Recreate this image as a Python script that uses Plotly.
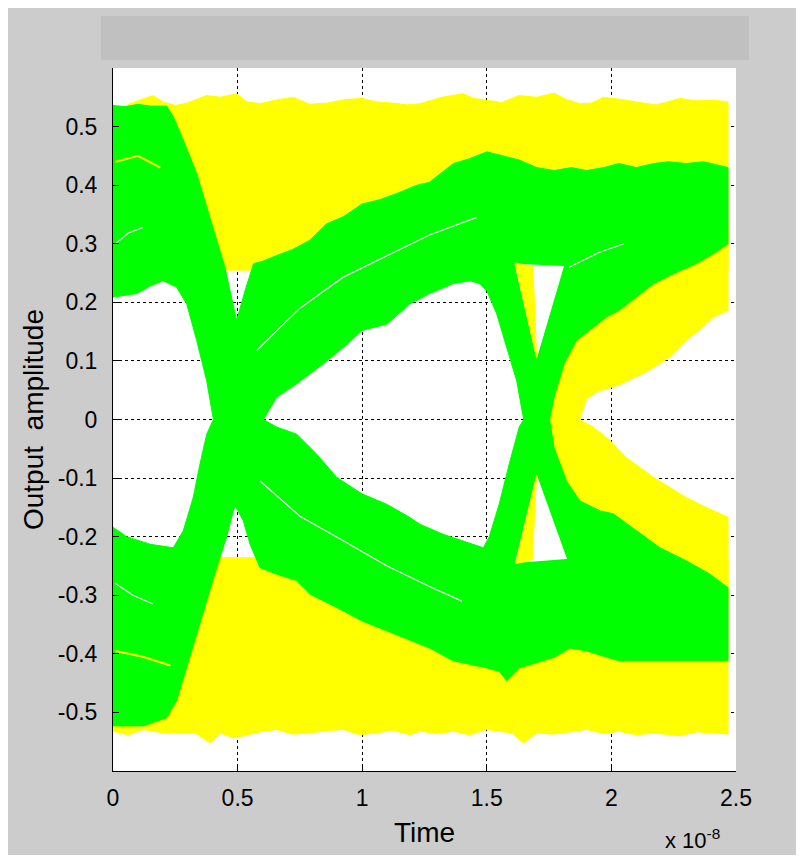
import plotly.graph_objects as go

# ---------------- data ----------------
# time axis in units of 1e-8 s, amplitude in volts
x_ticks = [0, 0.5, 1, 1.5, 2, 2.5]
x_tick_labels = ["0", "0.5", "1", "1.5", "2", "2.5"]
y_ticks = [-0.5, -0.4, -0.3, -0.2, -0.1, 0, 0.1, 0.2, 0.3, 0.4, 0.5]
y_tick_labels = ["-0.5", "-0.4", "-0.3", "-0.2", "-0.1", "0", "0.1", "0.2", "0.3", "0.4", "0.5"]

# yellow traces: upper level band (upper noisy envelope, then lower limit)
yel_hi_x = [0.0, 0.03, 0.068, 0.11, 0.16, 0.20, 0.25, 0.296, 0.33, 0.376, 0.43, 0.496, 0.54, 0.59,
            0.65, 0.724, 0.79, 0.857, 0.93, 1.0, 1.06, 1.125, 1.18, 1.232, 1.32, 1.405, 1.45, 1.50,
            1.56, 1.63, 1.70, 1.77, 1.82, 1.874, 1.92, 1.968, 2.03, 2.10, 2.18, 2.275, 2.34, 2.41,
            2.468, 2.468, 0.0]
yel_hi_y = [0.537, 0.53, 0.539, 0.545, 0.553, 0.542, 0.536, 0.54, 0.545, 0.553, 0.55, 0.556, 0.542,
            0.539, 0.545, 0.55, 0.538, 0.54, 0.546, 0.548, 0.542, 0.54, 0.537, 0.539, 0.55, 0.556,
            0.548, 0.545, 0.541, 0.553, 0.55, 0.557, 0.546, 0.539, 0.54, 0.55, 0.547, 0.542, 0.537,
            0.548, 0.544, 0.545, 0.542, 0.255, 0.255]

# yellow traces: lower level band
yel_lo_x = [0.0, 0.06, 0.122, 0.19, 0.255, 0.33, 0.39, 0.43, 0.48, 0.523, 0.59, 0.657, 0.72, 0.79,
            0.86, 0.924, 0.99, 1.058, 1.12, 1.19, 1.232, 1.30, 1.366, 1.43, 1.50, 1.60, 1.647, 1.70,
            1.77, 1.84, 1.90, 1.97, 2.03, 2.10, 2.17, 2.275, 2.34, 2.41, 2.468, 2.468, 0.0]
yel_lo_y = [-0.532, -0.538, -0.529, -0.534, -0.535, -0.535, -0.552, -0.535, -0.543, -0.54, -0.533,
            -0.529, -0.537, -0.535, -0.531, -0.529, -0.538, -0.535, -0.53, -0.538, -0.532, -0.536,
            -0.532, -0.538, -0.529, -0.535, -0.552, -0.535, -0.537, -0.532, -0.529, -0.536, -0.532,
            -0.538, -0.535, -0.54, -0.533, -0.535, -0.537, -0.236, -0.236]

# yellow traces: second crossing, opening to the right
yel_arm_x = [1.872, 1.90, 1.94, 2.03, 2.14, 2.23, 2.30, 2.36, 2.41, 2.468, 2.468, 1.745, 1.725,
             2.468, 2.468, 2.38, 2.30, 2.17, 2.06, 1.995, 1.928, 1.872]
yel_arm_y = [0.0, 0.035, 0.047, 0.059, 0.081, 0.105, 0.135, 0.155, 0.175, 0.186, 0.33, 0.20, -0.20,
             -0.31, -0.167, -0.15, -0.133, -0.099, -0.065, -0.036, -0.013, 0.0]

# green traces: upper half of the eye (outline)
grn_up_x = [0.0, 0.05, 0.10, 0.15, 0.215, 0.242, 0.282, 0.336, 0.376, 0.416, 0.449, 0.496,
            0.53, 0.564, 0.60, 0.657, 0.72, 0.79, 0.857, 0.924, 1.0, 1.07, 1.14, 1.22, 1.27,
            1.366, 1.43, 1.50, 1.56, 1.63, 1.70, 1.77, 1.84, 1.90, 1.97, 2.03, 2.10, 2.17, 2.23,
            2.30, 2.37, 2.468, 2.468, 2.41, 2.34, 2.25, 2.17, 2.10, 2.03, 1.98, 1.93, 1.86, 1.81,
            1.77, 1.752, 1.648, 1.62, 1.58, 1.54, 1.50, 1.47, 1.433, 1.366, 1.27, 1.19, 1.10, 1.0,
            0.924, 0.844, 0.737, 0.657, 0.603, 0.403, 0.376, 0.336, 0.296, 0.255, 0.20, 0.15, 0.095, 0.0]
grn_up_y = [0.536, 0.534, 0.538, 0.535, 0.535, 0.517, 0.477, 0.42, 0.363, 0.306, 0.26, 0.169,
            0.22, 0.266, 0.27, 0.28, 0.29, 0.306, 0.334, 0.346, 0.368, 0.375, 0.386, 0.40, 0.405,
            0.437, 0.445, 0.457, 0.45, 0.443, 0.43, 0.425, 0.43, 0.425, 0.43, 0.437, 0.43, 0.437, 0.44,
            0.437, 0.44, 0.43, 0.30, 0.283, 0.266, 0.249, 0.232, 0.209, 0.186, 0.175, 0.158, 0.135, 0.095,
            0.038, 0.0, 0.0, 0.066, 0.123, 0.18, 0.22, 0.232, 0.237, 0.232, 0.215, 0.197, 0.163, 0.152,
            0.123, 0.095, 0.061, 0.038, 0.0, 0.0, 0.066, 0.135, 0.197, 0.226, 0.237, 0.228, 0.215, 0.209]

# green traces: lower half of the eye (outline)
grn_lo_x = [0.0, 0.055, 0.149, 0.242, 0.282, 0.322, 0.349, 0.376, 0.403, 0.603, 0.657, 0.737,
            0.817, 0.898, 1.0, 1.10, 1.19, 1.232, 1.325, 1.405, 1.486, 1.51, 1.55, 1.59, 1.63, 1.648,
            1.752, 1.77, 1.82, 1.874, 1.955, 2.008, 2.10, 2.195, 2.30, 2.396, 2.468, 2.468, 2.30, 2.17,
            2.03, 1.90, 1.834, 1.77, 1.70, 1.63, 1.58, 1.55, 1.50, 1.366, 1.27, 1.138, 1.0, 0.898,
            0.79, 0.737, 0.657, 0.59, 0.55, 0.523, 0.49, 0.483, 0.456, 0.416, 0.376, 0.336, 0.296,
            0.255, 0.215, 0.122, 0.0]
grn_lo_y = [-0.184, -0.20, -0.213, -0.219, -0.19, -0.133, -0.076, -0.025, 0.0, 0.0, -0.013, -0.025,
            -0.059, -0.099, -0.127, -0.145, -0.167, -0.179, -0.196, -0.207, -0.219, -0.2, -0.144, -0.076,
            -0.013, 0.0, 0.0, -0.048, -0.105, -0.139, -0.156, -0.161, -0.19, -0.219, -0.241, -0.264,
            -0.287, -0.412, -0.412, -0.412, -0.412, -0.395, -0.39, -0.406, -0.415, -0.424, -0.446, -0.43,
            -0.424, -0.412, -0.39, -0.367, -0.344, -0.321, -0.298, -0.275, -0.264, -0.253, -0.213, -0.173,
            -0.147, -0.156, -0.2, -0.253, -0.31, -0.367, -0.424, -0.48, -0.509, -0.523, -0.523]

# openings inside the green crossing near t = 1.7
gap_top_x = [1.613, 1.70, 1.808]
gap_top_y = [0.266, 0.106, 0.262]
gap_bot_x = [1.615, 1.70, 1.82]
gap_bot_y = [-0.245, -0.096, -0.238]
# yellow crossing visible inside those openings
yel_in_top_x = [1.613, 1.70, 1.685]
yel_in_top_y = [0.268, 0.106, 0.262]
yel_in_bot_x = [1.615, 1.70, 1.682]
yel_in_bot_y = [-0.247, -0.096, -0.24]

# thin gaps between trace bundles (white) and yellow streaks
white_streaks = [
    ([0.577, 0.75, 0.924, 1.10, 1.27, 1.46], [0.118, 0.19, 0.243, 0.28, 0.315, 0.345]),
    ([0.59, 0.75, 0.924, 1.10, 1.27, 1.40], [-0.105, -0.165, -0.207, -0.25, -0.285, -0.31]),
    ([0.01, 0.06, 0.12], [0.30, 0.318, 0.328]),
    ([0.01, 0.08, 0.16], [-0.28, -0.30, -0.315]),
    ([1.83, 1.95, 2.05], [0.26, 0.285, 0.30]),
]
yellow_streaks = [
    ([0.01, 0.10, 0.19], [0.44, 0.45, 0.43]),
    ([0.01, 0.12, 0.23], [-0.395, -0.405, -0.42]),
]

YELLOW = "#ffff00"
GREEN = "#00ff00"

fig = go.Figure()


def poly(xs, ys, color):
    fig.add_trace(go.Scatter(x=xs, y=ys, mode="lines", fill="toself", fillcolor=color,
                             line=dict(color=color, width=1), hoverinfo="skip", showlegend=False))


poly(yel_hi_x, yel_hi_y, YELLOW)
poly(yel_lo_x, yel_lo_y, YELLOW)
poly(yel_arm_x, yel_arm_y, YELLOW)
poly(grn_up_x, grn_up_y, GREEN)
poly(grn_lo_x, grn_lo_y, GREEN)
poly(gap_top_x, gap_top_y, "#ffffff")
poly(gap_bot_x, gap_bot_y, "#ffffff")
poly(yel_in_top_x, yel_in_top_y, YELLOW)
poly(yel_in_bot_x, yel_in_bot_y, YELLOW)
for sx, sy in white_streaks:
    fig.add_trace(go.Scatter(x=sx, y=sy, mode="lines", line=dict(color="#ffffff", width=1.2),
                             hoverinfo="skip", showlegend=False))
for sx, sy in yellow_streaks:
    fig.add_trace(go.Scatter(x=sx, y=sy, mode="lines", line=dict(color=YELLOW, width=2),
                             hoverinfo="skip", showlegend=False))

# ---------------- layout ----------------
W, H = 788, 847
ML, MR, MT, MB = 105, 60, 60, 84
PW, PH = W - ML - MR, H - MT - MB
FONT = "Liberation Sans, Arial, sans-serif"

fig.update_layout(
    width=W, height=H,
    margin=dict(l=ML, r=MR, t=MT, b=MB, pad=0),
    paper_bgcolor="#cccccc", plot_bgcolor="#ffffff",
    font=dict(family=FONT, size=23, color="#000000"),
    showlegend=False,
    xaxis=dict(range=[0, 2.5], tickmode="array", tickvals=x_ticks, ticktext=x_tick_labels,
               showgrid=True, gridcolor="#000000", griddash="3px,3px", gridwidth=1,
               zeroline=False, showline=True, linecolor="#000000", linewidth=1,
               ticks="inside", ticklen=6, tickcolor="#000000", ticklabelstandoff=6,
               title=dict(text="Time", standoff=12)),
    yaxis=dict(range=[-0.6, 0.6], tickmode="array", tickvals=y_ticks, ticktext=y_tick_labels,
               showgrid=True, gridcolor="#000000", griddash="3px,3px", gridwidth=1,
               zeroline=False, showline=True, linecolor="#000000", linewidth=1,
               ticks="inside", ticklen=6, tickcolor="#000000", ticklabelstandoff=10,
               title=dict(text="Output  amplitude", standoff=5)),
)

# grey title strip above the axes
fig.add_shape(type="rect", xref="paper", yref="paper",
              x0=(93 - ML) / PW, x1=(741 - ML) / PW,
              y0=(MT + PH - 52) / PH, y1=(MT + PH - 8) / PH,
              fillcolor="#c0c0c0", line=dict(width=0), layer="below")

# exponent label of the time axis
fig.add_annotation(text="x 10<sup>-8</sup>", xref="paper", yref="paper",
                   x=(684 - ML) / PW, y=(MT + PH - 847) / PH,
                   xanchor="center", yanchor="bottom", showarrow=False,
                   font=dict(family=FONT, size=22, color="#000000"))

fig.write_html("out.html")
